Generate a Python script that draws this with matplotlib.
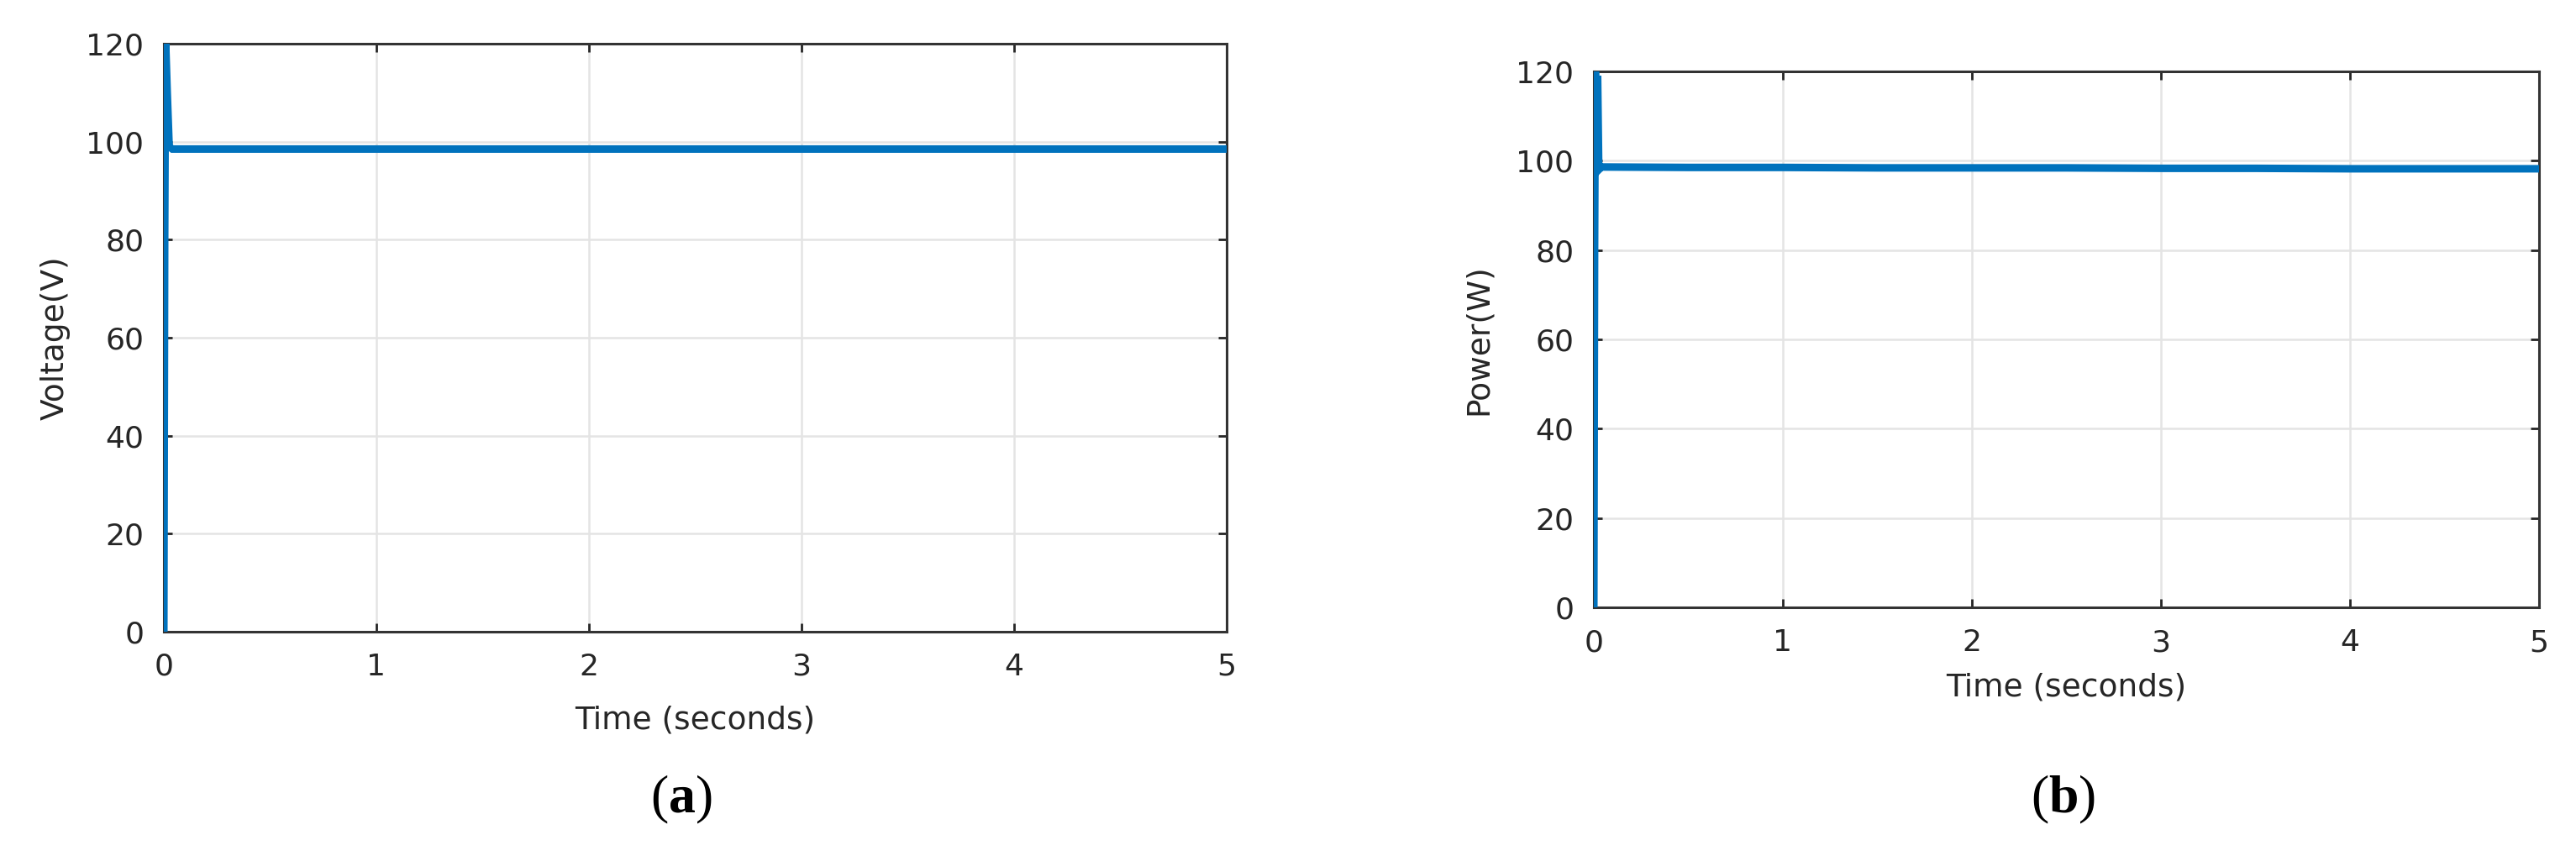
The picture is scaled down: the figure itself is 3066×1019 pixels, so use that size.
import matplotlib
matplotlib.use('Agg')
import matplotlib.pyplot as plt

# данные (время в секундах)
time_v = [0, 0.004, 0.008, 0.016, 0.025, 0.04, 0.5, 1, 1.5, 2, 2.5, 3, 3.5, 4, 4.5, 5]
voltage = [0, 80, 121, 110, 99, 98.5, 98.5, 98.5, 98.5, 98.5, 98.5, 98.5, 98.5, 98.5, 98.5, 98.5]

time_p = [0, 0.004, 0.008, 0.014, 0.02, 0.026, 0.04, 0.5, 1, 1.5, 2, 2.5, 3, 3.5, 4, 4.5, 5]
power = [0, 80, 121, 99, 119, 98, 98.6, 98.5, 98.5, 98.4, 98.4, 98.4, 98.3, 98.3, 98.2, 98.2, 98.2]

x_ticks = [0, 1, 2, 3, 4, 5]
y_ticks = [0, 20, 40, 60, 80, 100, 120]

LINE_COLOR = '#0072BD'
AX_COLOR = '#262626'

plt.rcParams['font.family'] = ['DejaVu Sans']
plt.rcParams['mathtext.fontset'] = 'custom'
plt.rcParams['mathtext.rm'] = 'Liberation Serif'
plt.rcParams['mathtext.bf'] = 'Liberation Serif:bold'


def _panel(ax, t, y, ylabel, ylab_x, xlab_y):
    """
        Рисует одну панель в стиле MATLAB.
    """
    ax.plot(t, y, color=LINE_COLOR, lw=6.5, solid_joinstyle='miter', zorder=3)
    ax.set_xlim(0, 5)
    ax.set_ylim(0, 120)
    ax.set_xticks(x_ticks)
    ax.set_yticks(y_ticks)
    ax.grid(True, color='#e4e4e4', lw=1.8, zorder=0)
    ax.set_axisbelow(True)
    ax.tick_params(direction='in', length=7, width=2, colors=AX_COLOR,
                   labelsize=26, top=True, right=True)
    ax.tick_params(axis='x', pad=18)
    ax.tick_params(axis='y', pad=17)
    for s in ax.spines.values():
        s.set_color('#333333')
        s.set_linewidth(2.2)
    ax.set_xlabel('Time (seconds)', fontsize=27, color=AX_COLOR)
    ax.set_ylabel(ylabel, fontsize=27, color=AX_COLOR)
    ax.xaxis.set_label_coords(0.5, xlab_y)
    ax.yaxis.set_label_coords(ylab_x, 0.5)


fig = plt.figure(figsize=(30.66, 10.19), dpi=100)

ax1 = fig.add_axes([195 / 3066, 1 - 752 / 1019, 1265 / 3066, 700 / 1019])
_panel(ax1, time_v, voltage, 'Voltage(V)', -0.088, -0.125)

ax2 = fig.add_axes([1897 / 3066, 1 - 723 / 1019, 1125 / 3066, 638 / 1019])
_panel(ax2, time_p, power, 'Power(W)', -0.106, -0.122)

fig.text(811 / 3066, 1 - 952 / 1019, r'$\mathrm{(}\mathbf{a}\mathrm{)}$',
         fontsize=46, ha='center', va='center')
fig.text(2456 / 3066, 1 - 952 / 1019, r'$\mathrm{(}\mathbf{b}\mathrm{)}$',
         fontsize=46, ha='center', va='center')

fig.savefig('out.png', dpi=100, facecolor='white')
